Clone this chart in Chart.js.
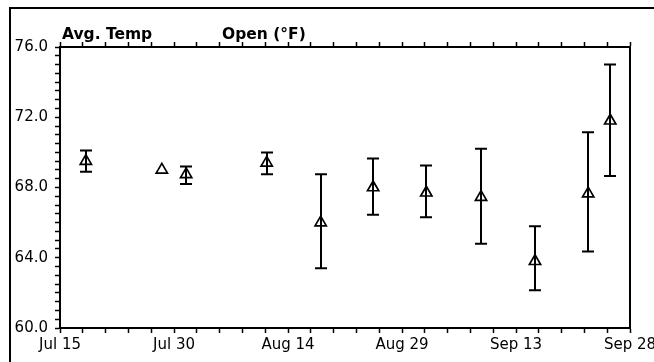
<!DOCTYPE html>
<html>
<head>
<meta charset="utf-8">
<script src="https://cdn.jsdelivr.net/npm/chart.js@4/dist/chart.umd.min.js"></script>
<style>
  html, body { margin: 0; padding: 0; background: #fff; }
  #c { display: block; }
</style>
</head>
<body>
<canvas id="c" width="654" height="362"></canvas>
<script>
// Days after Jul 15 for each sample
const dayOffsets = [3.4, 13.4, 16.6, 27.2, 34.3, 41.2, 48.2, 55.4, 62.5, 69.5, 72.4];
// Average open temperature (°F)
const avgTemp   = [69.5, 69.0, 68.75, 69.4, 66.0, 68.0, 67.7, 67.45, 63.8, 67.65, 71.8];
const lowTemp   = [68.9, null, 68.2, 68.75, 63.4, 66.45, 66.3, 64.8, 62.15, 64.35, 68.65];
const highTemp  = [70.1, null, 69.2, 70.0, 68.75, 69.65, 69.25, 70.2, 65.8, 71.15, 75.0];
// Axis tick labels
const xTickLabels = ['Jul 15', 'Jul 30', 'Aug 14', 'Aug 29', 'Sep 13', 'Sep 28'];
const titleLeft = 'Avg. Temp';
const titleRight = 'Open (°F)';

const points = dayOffsets.map((d, i) => ({ x: d, y: avgTemp[i] }));

const errorBars = {
  id: 'errorBars',
  afterDatasetsDraw(chart) {
    const ctx = chart.ctx, xs = chart.scales.x, ys = chart.scales.y;
    ctx.save();
    ctx.strokeStyle = '#000';
    ctx.lineWidth = 2;
    for (let i = 0; i < dayOffsets.length; i++) {
      if (lowTemp[i] == null || highTemp[i] == null) continue;
      const x = Math.round(xs.getPixelForValue(dayOffsets[i]));
      const y1 = ys.getPixelForValue(lowTemp[i]);
      const y2 = ys.getPixelForValue(highTemp[i]);
      ctx.beginPath();
      ctx.moveTo(x, y1); ctx.lineTo(x, y2);
      ctx.moveTo(x - 6, y1); ctx.lineTo(x + 6, y1);
      ctx.moveTo(x - 6, y2); ctx.lineTo(x + 6, y2);
      ctx.stroke();
    }
    ctx.restore();
  }
};

const frame = {
  id: 'frame',
  afterDraw(chart) {
    const ctx = chart.ctx, a = chart.chartArea;
    ctx.save();
    ctx.strokeStyle = '#000';
    ctx.lineWidth = 2;
    ctx.beginPath();
    ctx.moveTo(10, 362); ctx.lineTo(10, 8); ctx.lineTo(654, 8);
    ctx.stroke();
    ctx.fillStyle = '#000';
    ctx.font = 'bold 15.5px "DejaVu Sans"';
    ctx.textBaseline = 'alphabetic';
    ctx.textAlign = 'left';
    ctx.fillText(titleLeft, a.left + 2, 39);
    ctx.fillText(titleRight, a.left + 162, 39);
    ctx.restore();
  }
};

const tickFont = { family: '"DejaVu Sans"', size: 15 };

new Chart(document.getElementById('c'), {
  type: 'scatter',
  data: {
    datasets: [{
      data: points,
      pointStyle: 'triangle',
      pointRadius: 6.5,
      pointHoverRadius: 6.5,
      backgroundColor: '#fff',
      borderColor: '#000',
      borderWidth: 1.7
    }]
  },
  options: {
    responsive: false,
    animation: false,
    layout: { padding: 0 },
    plugins: { legend: { display: false }, tooltip: { enabled: false }, title: { display: false } },
    scales: {
      x: {
        type: 'linear', position: 'bottom', min: 0, max: 75,
        afterFit(s) { s.height = 34; s.paddingLeft = 0; s.paddingRight = 0; },
        border: { color: '#000', width: 2 },
        grid: { drawOnChartArea: false, tickLength: 5, tickColor: '#000', tickWidth: 1.5 },
        ticks: {
          stepSize: 3, autoSkip: false, maxRotation: 0, padding: 3, color: '#000', font: tickFont,
          callback: v => (v % 15 === 0 ? xTickLabels[v / 15] : '')
        }
      },
      xTop: {
        type: 'linear', position: 'top', min: 0, max: 75,
        afterFit(s) { s.height = 47; s.paddingLeft = 0; s.paddingRight = 0; },
        border: { color: '#000', width: 2 },
        grid: { drawOnChartArea: false, tickLength: 5, tickColor: '#000', tickWidth: 1.5 },
        ticks: { stepSize: 3, autoSkip: false, maxRotation: 0, callback: () => '' }
      },
      y: {
        type: 'linear', position: 'left', min: 60, max: 76,
        afterFit(s) { s.width = 60; s.paddingTop = 0; s.paddingBottom = 0; },
        border: { color: '#000', width: 2 },
        grid: { drawOnChartArea: false, tickLength: 5, tickColor: '#000', tickWidth: 1.5 },
        ticks: {
          stepSize: 0.5, autoSkip: false, padding: 7, color: '#000', font: tickFont,
          callback: v => (v % 4 === 0 ? v.toFixed(1) : '')
        }
      },
      yRight: {
        type: 'linear', position: 'right', min: 60, max: 76,
        afterFit(s) { s.width = 24; s.paddingTop = 0; s.paddingBottom = 0; },
        border: { color: '#000', width: 2 },
        grid: { drawOnChartArea: false, drawTicks: false },
        ticks: { display: false }
      }
    }
  },
  plugins: [errorBars, frame]
});
</script>
</body>
</html>
